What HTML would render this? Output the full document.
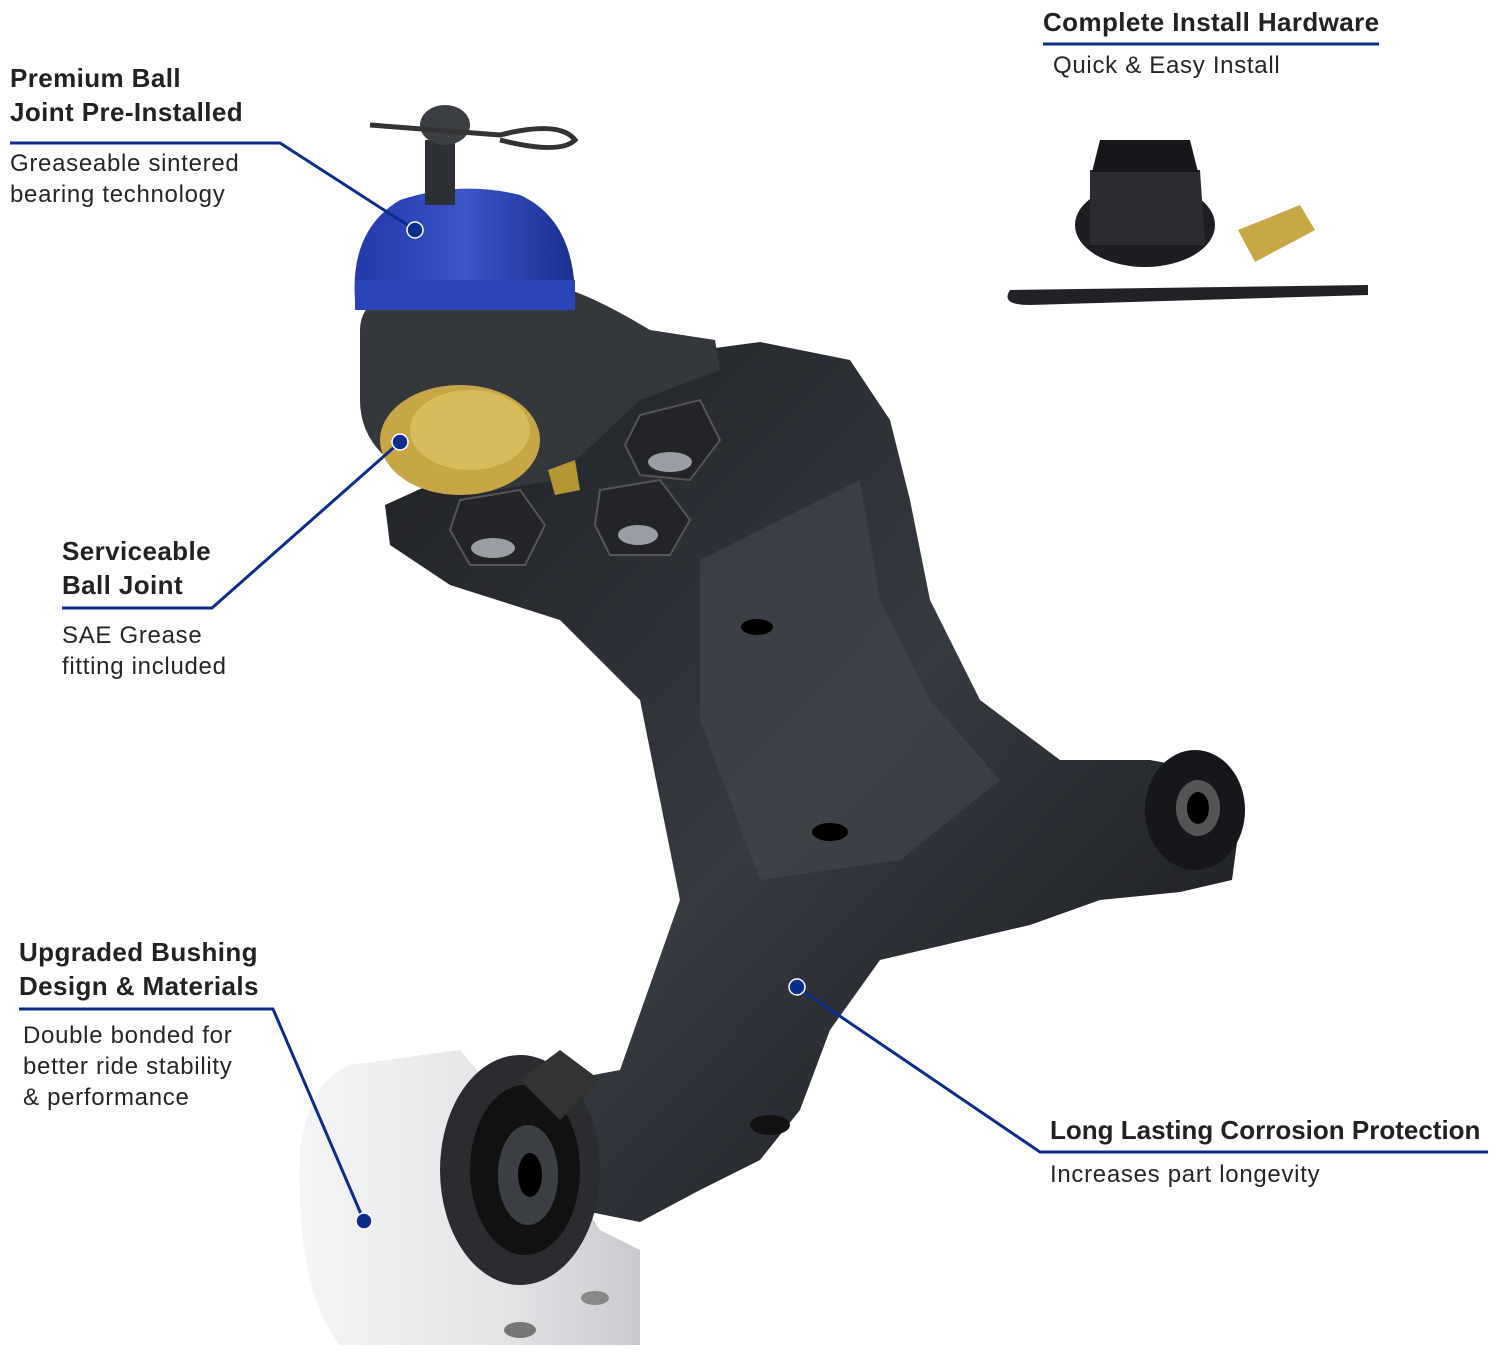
<!DOCTYPE html>
<html><head><style>
body{margin:0;width:1500px;height:1355px;background:#fff;position:relative;overflow:hidden;font-family:"Liberation Sans",Arial,sans-serif;color:#222}
.t{position:absolute;white-space:nowrap}
.h{font-weight:bold;font-size:26px;line-height:34px;letter-spacing:0.4px}
.s{font-size:24px;line-height:31px;letter-spacing:0.7px;color:#262626}
svg{position:absolute;left:0;top:0}
</style></head><body>
<svg width="1500" height="1355" viewBox="0 0 1500 1355">
<defs>
<linearGradient id="arm" x1="0" y1="0" x2="1" y2="1"><stop offset="0" stop-color="#1e2024"/><stop offset="0.5" stop-color="#363a41"/><stop offset="1" stop-color="#141518"/></linearGradient>
<linearGradient id="blue" x1="0" y1="0" x2="1" y2="0"><stop offset="0" stop-color="#2338a8"/><stop offset="0.5" stop-color="#3a55c8"/><stop offset="1" stop-color="#1c2e90"/></linearGradient>
<linearGradient id="sil" x1="0" y1="0" x2="1" y2="0"><stop offset="0" stop-color="#f4f5f6"/><stop offset="0.6" stop-color="#e2e4e6"/><stop offset="1" stop-color="#c8cacd"/></linearGradient>
</defs>
<path d="M385,505 L440,480 L560,420 L700,350 L760,342 L850,360 L890,420 L910,500 L930,600 L980,700 L1060,760 L1150,760 L1205,770 L1240,820 L1232,880 L1180,892 L1100,900 L1030,925 L880,960 L830,1030 L800,1110 L760,1160 L700,1190 L640,1222 L580,1210 L520,1180 L495,1150 L540,1085 L620,1070 L680,900 L640,700 L560,620 L450,585 L390,545 Z" fill="url(#arm)"/>
<path d="M700,560 L860,480 L880,600 L930,700 L1000,780 L900,860 L760,880 L700,720 Z" fill="#44484f" opacity="0.6"/>
<ellipse cx="757" cy="627" rx="16" ry="8" fill="#000"/>
<ellipse cx="830" cy="832" rx="18" ry="9" fill="#000"/>
<ellipse cx="770" cy="1125" rx="20" ry="10" fill="#111"/>
<ellipse cx="1195" cy="810" rx="50" ry="60" fill="#15171a"/>
<ellipse cx="1198" cy="808" rx="22" ry="28" fill="#555"/>
<ellipse cx="1198" cy="808" rx="11" ry="16" fill="#000"/>
<g fill="#222428" stroke="#555" stroke-width="2">
<polygon points="640,415 700,400 720,440 690,480 640,475 625,445"/>
<polygon points="600,490 660,480 690,520 670,555 610,555 595,525"/>
<polygon points="460,500 520,490 545,525 525,565 470,565 450,530"/>
</g>
<ellipse cx="670" cy="462" rx="22" ry="10" fill="#9a9ea4"/>
<ellipse cx="638" cy="535" rx="20" ry="10" fill="#9a9ea4"/>
<ellipse cx="493" cy="548" rx="22" ry="10" fill="#9a9ea4"/>
<path d="M360,330 Q360,300 400,290 L570,290 Q600,300 650,330 L715,340 L720,370 L640,400 L555,480 L470,495 Q360,470 360,400 Z" fill="#34373c"/>
<path d="M355,300 Q350,230 400,200 Q460,180 520,195 Q575,220 575,300 Q470,320 355,300 Z" fill="url(#blue)"/>
<rect x="355" y="280" width="220" height="30" fill="#2a44b8"/>
<ellipse cx="460" cy="440" rx="80" ry="55" fill="#c7a646"/>
<ellipse cx="470" cy="430" rx="60" ry="40" fill="#d8bc5c"/>
<path d="M548,470 L575,460 L580,490 L555,495 Z" fill="#b59632"/>
<rect x="425" y="140" width="30" height="65" fill="#2c2f33"/>
<ellipse cx="445" cy="125" rx="25" ry="20" fill="#3b3e43"/>
<path d="M370,125 L500,135 Q560,120 575,140 Q560,155 500,140" fill="none" stroke="#333" stroke-width="5"/>
<path d="M300,1150 Q310,1080 350,1065 L460,1050 L560,1170 L600,1230 L640,1250 L640,1345 L340,1345 Q295,1290 300,1150 Z" fill="url(#sil)"/>
<ellipse cx="520" cy="1170" rx="80" ry="115" fill="#2a2c30"/>
<ellipse cx="525" cy="1170" rx="55" ry="85" fill="#111"/>
<ellipse cx="528" cy="1175" rx="30" ry="50" fill="#3c3f44"/>
<ellipse cx="530" cy="1175" rx="12" ry="22" fill="#000"/>
<ellipse cx="520" cy="1330" rx="16" ry="8" fill="#777"/>
<ellipse cx="595" cy="1298" rx="14" ry="7" fill="#888"/>
<path d="M520,1080 L560,1050 L600,1080 L560,1120 Z" fill="#333"/>
<ellipse cx="1145" cy="225" rx="70" ry="42" fill="#1c1e21"/>
<path d="M1090,170 L1200,170 L1205,245 L1090,245 Z" fill="#2a2c30"/>
<path d="M1100,140 L1190,140 L1198,172 L1092,172 Z" fill="#15171a"/>
<path d="M1238,230 L1300,205 L1315,230 L1255,262 Z" fill="#c8a846"/>
<path d="M1010,290 L1368,285 L1368,295 L1030,305 Q1000,305 1010,290 Z" fill="#202226"/>
<g stroke="#0b2d8e" stroke-width="3" fill="none">
<polyline points="10,143 280,143 415,230"/>
<polyline points="62,608 212,608 400,442"/>
<polyline points="19,1009 273,1009 364,1221"/>
<polyline points="1488,1152 1040,1152 797,987"/>
<line x1="1043" y1="44" x2="1379" y2="44"/>
</g>
<g fill="#0b2d8e" stroke="#fff" stroke-width="1.5">
<circle cx="415" cy="230" r="8"/><circle cx="400" cy="442" r="8"/><circle cx="364" cy="1221" r="8"/><circle cx="797" cy="987" r="8"/>
</g>
</svg>
<div class="t h" style="left:10px;top:61px">Premium Ball<br>Joint Pre-Installed</div>
<div class="t s" style="left:10px;top:148px">Greaseable sintered<br>bearing technology</div>
<div class="t h" style="left:1043px;top:5px">Complete Install Hardware</div>
<div class="t s" style="left:1053px;top:50px">Quick &amp; Easy Install</div>
<div class="t h" style="left:62px;top:534px">Serviceable<br>Ball Joint</div>
<div class="t s" style="left:62px;top:620px">SAE Grease<br>fitting included</div>
<div class="t h" style="left:19px;top:935px">Upgraded Bushing<br>Design &amp; Materials</div>
<div class="t s" style="left:23px;top:1020px">Double bonded for<br>better ride stability<br>&amp; performance</div>
<div class="t h" style="left:1050px;top:1113px;letter-spacing:0">Long Lasting Corrosion Protection</div>
<div class="t s" style="left:1050px;top:1159px">Increases part longevity</div>
</body></html>
